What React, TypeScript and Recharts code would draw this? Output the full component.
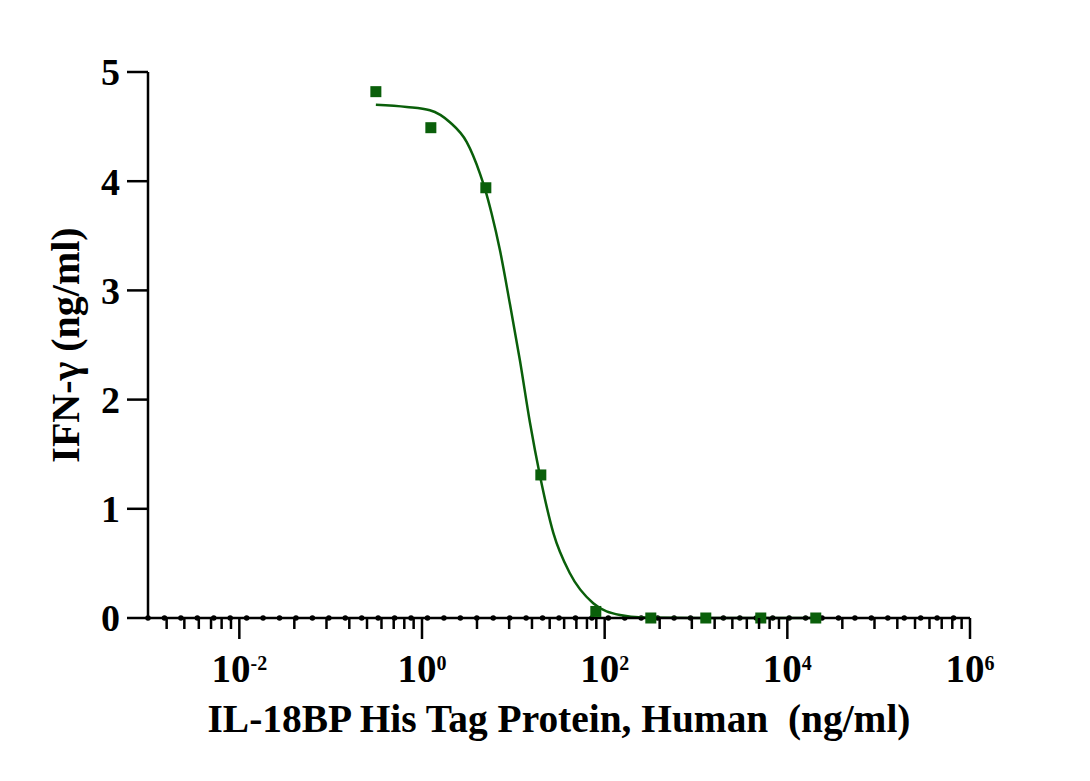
import React from 'react';
import {
  ComposedChart,
  Line,
  Scatter,
  XAxis,
  YAxis,
  ReferenceLine,
} from 'recharts';

// Measured data points (concentration ng/ml, IFN-γ ng/ml)
const pointX = [0.3125, 1.25, 5, 20, 80, 320, 1280, 5120, 20480];
const pointY = [4.82, 4.49, 3.94, 1.31, 0.06, 0.0, 0.0, 0.0, 0.0];

// Fitted curve
const curveX = [0.3125, 0.68, 1.22, 2.02, 3.08, 4.31, 4.89, 5.8, 7.13, 9.2, 11.8, 15.2, 19.5, 27.4, 41.6, 74.9, 147, 262, 1000, 5000, 20480];
const curveY = [4.70, 4.68, 4.65, 4.54, 4.36, 4.07, 3.93, 3.70, 3.37, 2.87, 2.36, 1.79, 1.31, 0.78, 0.41, 0.135, 0.027, 0.004, 0.0, 0.0, 0.0];

// Axis ticks
const xMajorTicks = [0.01, 1, 100, 10000, 1000000];
const xMajorExponents = ['-2', '0', '2', '4', '6'];
const xMinorBases = [0.0001, 0.01, 1, 100, 10000];
const xMinorMultipliers = [4, 9, 16, 25, 36, 49, 64, 81];
const yTicks = [0, 1, 2, 3, 4, 5];

const xDomain: [number, number] = [0.001, 1000000];
const yDomain: [number, number] = [0, 5];

const points = pointX.map((x, i) => ({ x, y: pointY[i] }));
const curve = curveX.map((x, i) => ({ x, y: curveY[i] }));

const xMinorTicks: number[] = [];
xMinorBases.forEach((b) =>
  xMinorMultipliers.forEach((m) => {
    const v = b * m;
    if (v >= xDomain[0] && v <= xDomain[1]) xMinorTicks.push(v);
  })
);
const xAllTicks = [...xMajorTicks, ...xMinorTicks].sort((a, b) => a - b);

const FONT = '"Liberation Serif", "Times New Roman", serif';
const GREEN = '#0a5f0a';

const XTick = (props: any) => {
  const { x, y, payload } = props;
  const idx = xMajorTicks.findIndex((t) => Math.abs(t - payload.value) / t < 1e-9);
  const major = idx >= 0;
  return (
    <g>
      <line x1={x} x2={x} y1={y} y2={y + (major ? 21 : 11)} stroke="#000" strokeWidth={2.5} />
      {major && (
        <text
          x={x}
          y={y + 64}
          textAnchor="middle"
          fontFamily={FONT}
          fontWeight="bold"
          fontSize={39}
          fill="#000"
        >
          <tspan>10</tspan>
          <tspan dy={-12} fontSize={20}>{xMajorExponents[idx]}</tspan>
        </text>
      )}
    </g>
  );
};

const XLabel = (props: any) => {
  const { viewBox } = props;
  const cx = viewBox.x + viewBox.width / 2;
  return (
    <text
      x={cx}
      y={viewBox.y + 114}
      textAnchor="middle"
      fontFamily={FONT}
      fontWeight="bold"
      fontSize={39.4}
      fill="#000"
      style={{ whiteSpace: 'pre' }}
    >
      IL-18BP His Tag Protein, Human  (ng/ml)
    </text>
  );
};

const YLabel = (props: any) => {
  const { viewBox } = props;
  const cx = viewBox.x + 65;
  const cy = viewBox.y + viewBox.height / 2;
  return (
    <text
      x={cx}
      y={cy}
      transform={`rotate(-90 ${cx} ${cy})`}
      textAnchor="middle"
      dominantBaseline="central"
      fontFamily={FONT}
      fontWeight="bold"
      fontSize={40}
      fill="#000"
    >
      IFN-γ (ng/ml)
    </text>
  );
};

const SquareDot = (props: any) => {
  const { cx, cy } = props;
  if (cx == null || cy == null) return null;
  return <rect x={cx - 5.5} y={cy - 5.5} width={11} height={11} fill={GREEN} />;
};

export default function App() {
  return (
    <div style={{ position: 'absolute', left: 0, top: 0, background: '#fff' }}>
      <ComposedChart
        width={1090}
        height={781}
        margin={{ top: 72, right: 120, bottom: 0, left: 0 }}
      >
        <XAxis
          dataKey="x"
          type="number"
          scale="log"
          domain={xDomain}
          allowDataOverflow
          ticks={xAllTicks}
          interval={0}
          tick={<XTick />}
          tickLine={false}
          tickSize={0}
          tickMargin={0}
          axisLine={{ stroke: '#000', strokeWidth: 2.5 }}
          height={163}
          label={<XLabel />}
        />
        <YAxis
          dataKey="y"
          type="number"
          domain={yDomain}
          ticks={yTicks}
          interval={0}
          width={148}
          tickSize={21}
          tickMargin={7}
          tickLine={{ stroke: '#000', strokeWidth: 2.5 }}
          axisLine={{ stroke: '#000', strokeWidth: 2.5 }}
          tick={{ fontFamily: FONT, fontWeight: 'bold', fontSize: 38, fill: '#000' }}
          label={<YLabel />}
        />
        <ReferenceLine
          y={0}
          stroke="#000"
          strokeWidth={5.5}
          strokeDasharray="0 16.44"
          strokeLinecap="round"
        />
        <Line
          data={curve}
          dataKey="y"
          type="monotone"
          stroke={GREEN}
          strokeWidth={2.5}
          dot={false}
          activeDot={false}
          isAnimationActive={false}
        />
        <Scatter
          data={points}
          dataKey="y"
          fill={GREEN}
          shape={<SquareDot />}
          isAnimationActive={false}
        />
      </ComposedChart>
    </div>
  );
}
